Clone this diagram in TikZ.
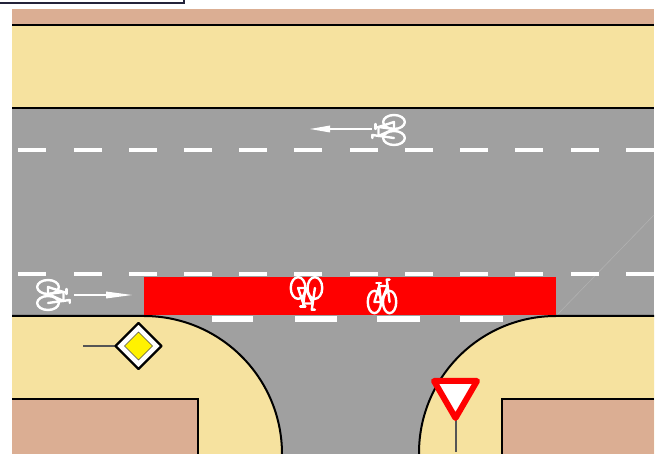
\documentclass[tikz,border=0pt]{standalone}
\definecolor{roadgray}{HTML}{A0A0A0}
\definecolor{verge}{HTML}{F6E29F}
\definecolor{plot}{HTML}{DBAE93}
\definecolor{postgray}{HTML}{555555}
\definecolor{framenavy}{HTML}{23233A}
\tikzset{
  edge/.style={black,line width=2pt},
  dashmark/.style={fill=white,draw=none},
  bikeline/.style={white,line width=2.4pt,line cap=round,line join=round},
  signpost/.style={postgray,line width=1.3pt},
  pointer/.style={white,line width=1.5pt},
  pointerhead/.style={fill=white,draw=none},
}
\newcommand{\bikeglyph}{%
  \draw[bikeline] (-8,0) circle [radius=7];
  \draw[bikeline] (8,0) circle [radius=7];
  \draw[bikeline] (-8,0) -- (-3,-10) -- (-1,0) -- cycle;
  \draw[bikeline] (-1,0) -- (6,-10) -- (-3,-10);
  \draw[bikeline] (8,0) -- (5,-14) -- (8,-14);
  \draw[bikeline] (-6,-12) -- (-1,-12);
  \draw[bikeline] (-3,-10) -- (-3,-12);
}
\begin{document}
\begin{tikzpicture}[x=1pt,y=-1pt]
\useasboundingbox (0,0) rectangle (659,454);
\fill[white] (0,0) rectangle (659,454);
% frame remnant at top
\draw[framenavy,line width=1.4pt] (0,3) -- (184,3) -- (184,0);
% strips
\fill[plot] (12,9) rectangle (654,25);
\fill[verge] (12,25) rectangle (654,108);
\fill[roadgray] (12,108) rectangle (654,456);
\draw[edge] (12,25) -- (654,25);
\draw[edge] (12,108) -- (654,108);
% faint seam
\draw[white!18!roadgray,line width=.6pt] (556,316) -- (654,215);
% centre dashes
\foreach \x in {18,74,129,184,239,294,350,405,460,515,571,626} {
  \fill[dashmark] (\x,148) rectangle ({min(\x+28,654)},152);
  \fill[dashmark] (\x,272) rectangle ({min(\x+28,654)},276);
}
% verges with curved corners
\fill[verge] (12,316) -- (144,316) arc[start angle=-90,end angle=0,radius=138] -- (282,456) -- (12,456) -- cycle;
\fill[verge] (654,316) -- (556,316) arc[start angle=270,end angle=180,radius=137] -- (419,456) -- (654,456) -- cycle;
% red crossing
\fill[red] (144,277) rectangle (556,315.5);
% give-way marks
\foreach \x/\w in {212/41,295/42,377/43,460/43} {
  \fill[dashmark] (\x,316) rectangle (\x+\w,322);
}
\draw[edge] (12,316) -- (144,316) arc[start angle=-90,end angle=0,radius=138] -- (282,456);
\draw[edge] (654,316) -- (556,316) arc[start angle=270,end angle=180,radius=137] -- (419,456);
% plots
\fill[plot] (12,399) rectangle (198,456);
\fill[plot] (502,399) rectangle (654,456);
\draw[edge] (12,399) -- (198,399) -- (198,456);
\draw[edge] (654,399) -- (502,399) -- (502,456);
% priority sign
\draw[signpost] (83,346) -- (116,346);
\draw[black,fill=white,line width=2.4pt,line join=round] (138.5,323) -- (161.5,346) -- (138.5,369) -- (115.5,346) -- cycle;
\draw[black!70,fill=yellow,line width=.6pt] (138.5,332) -- (152.5,346) -- (138.5,360) -- (124.5,346) -- cycle;
% yield sign
\draw[signpost] (456,420) -- (456,452);
\draw[red,fill=white,line width=6pt,line join=round] (434,381) -- (477,381) -- (455.5,418) -- cycle;
% arrows
\draw[pointer] (372,129) -- (325,129);
\fill[pointerhead] (310,129) -- (330,125.5) -- (330,132.5) -- cycle;
\draw[pointer] (74,295) -- (112,295);
\fill[pointerhead] (132,295) -- (106,291.5) -- (106,298.5) -- cycle;
% cycle symbols
\begin{scope}[shift={(382,302)},x={(0.95pt,0pt)},y={(0pt,-1.6pt)}]\bikeglyph\end{scope}
\begin{scope}[shift={(306.5,288)},x={(1.05pt,0pt)},y={(0pt,1.55pt)}]\bikeglyph\end{scope}
\begin{scope}[shift={(48,295)},x={(0pt,-1pt)},y={(-1.55pt,0pt)}]\bikeglyph\end{scope}
\begin{scope}[shift={(394,130)},x={(0pt,-1pt)},y={(1.55pt,0pt)}]\bikeglyph\end{scope}
\end{tikzpicture}
\end{document}
